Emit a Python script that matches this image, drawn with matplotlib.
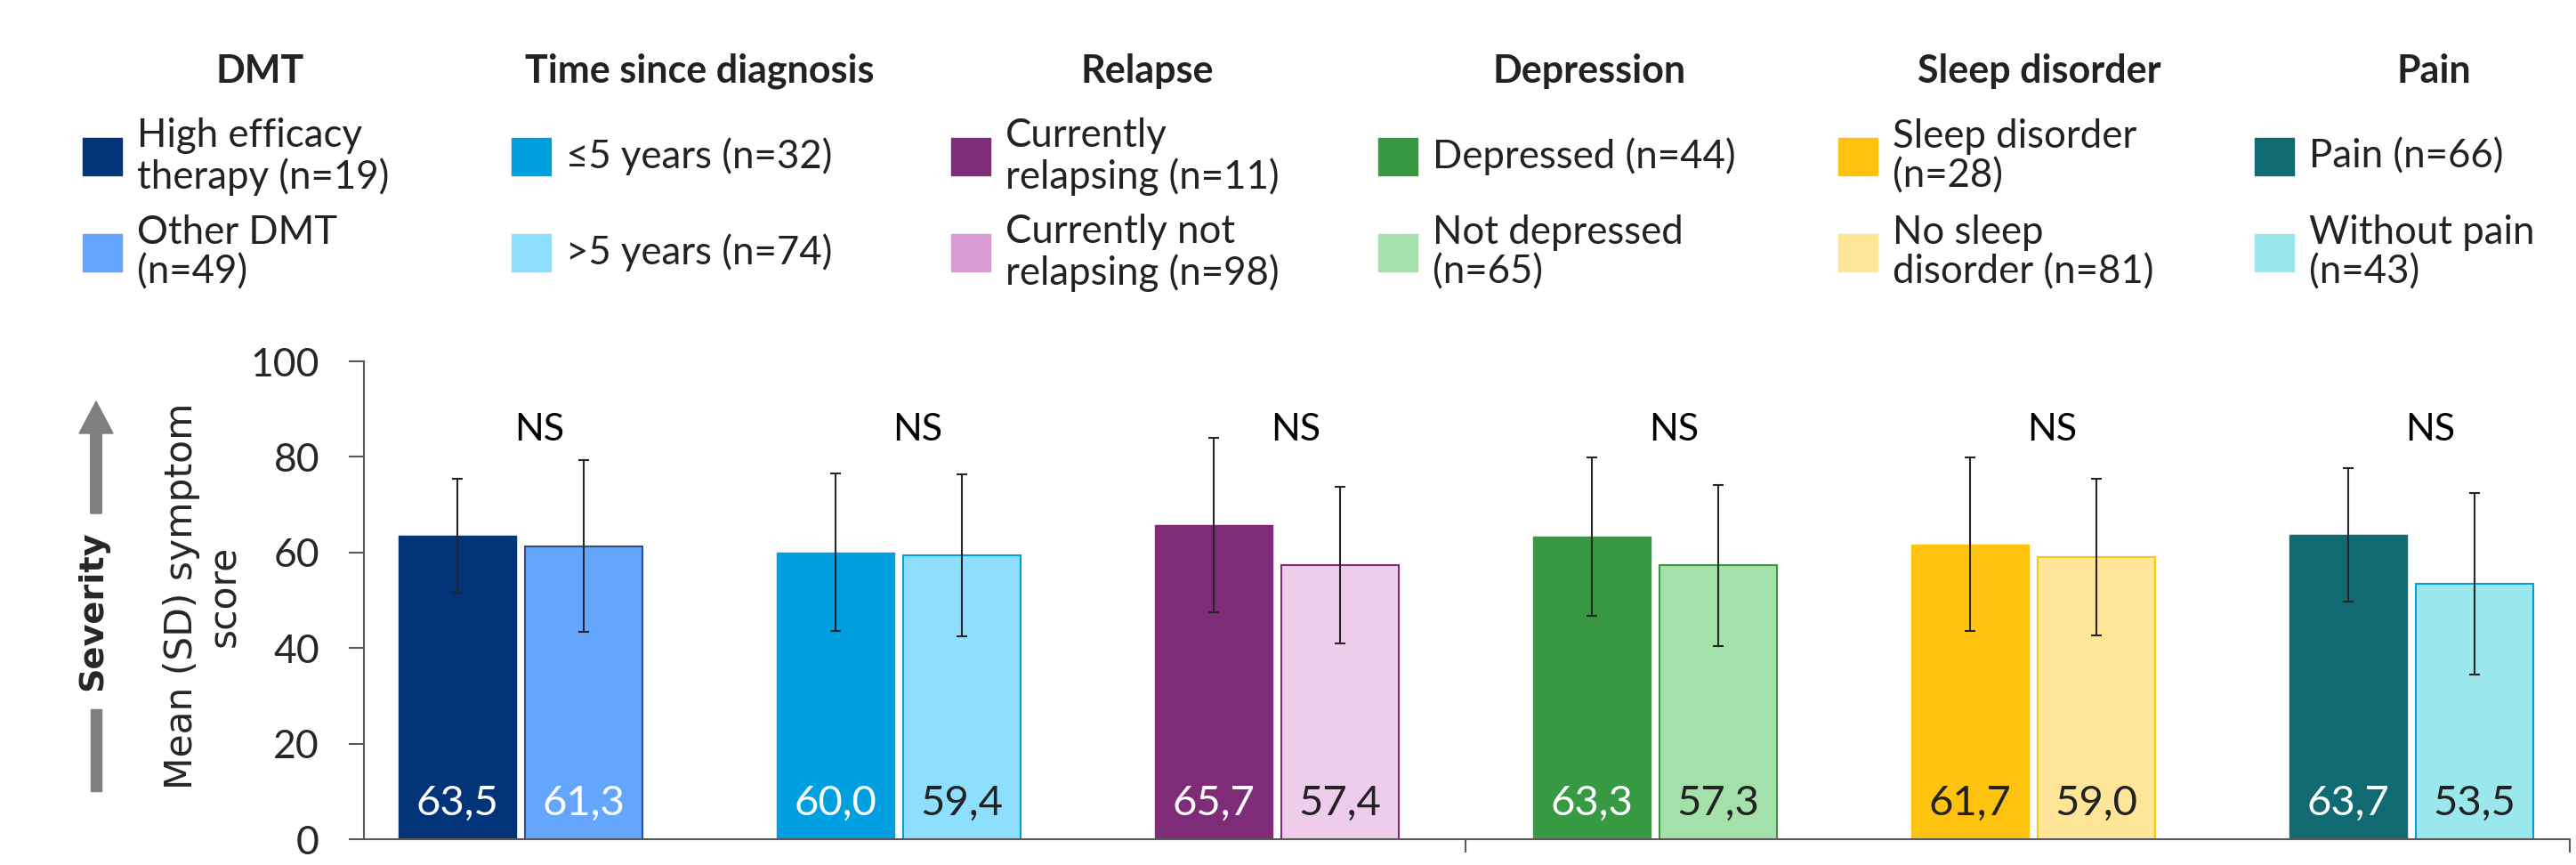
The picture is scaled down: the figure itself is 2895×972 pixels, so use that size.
import matplotlib
matplotlib.use("Agg")
import matplotlib.pyplot as plt
from matplotlib.patches import Rectangle, FancyArrow
import numpy as np

# data
groups = ["DMT", "Time since diagnosis", "Relapse", "Depression", "Sleep disorder", "Pain"]
labels_a = ["High efficacy\ntherapy (n=19)", "≤5 years (n=32)", "Currently\nrelapsing (n=11)",
            "Depressed (n=44)", "Sleep disorder\n(n=28)", "Pain (n=66)"]
labels_b = ["Other DMT\n(n=49)", ">5 years (n=74)", "Currently not\nrelapsing (n=98)",
            "Not depressed\n(n=65)", "No sleep\ndisorder (n=81)", "Without pain\n(n=43)"]
mean_a = [63.5, 60.0, 65.7, 63.3, 61.7, 63.7]
mean_b = [61.3, 59.4, 57.4, 57.3, 59.0, 53.5]
sd_a = [11.9, 16.5, 18.2, 16.5, 18.1, 13.9]
sd_b = [18.0, 16.9, 16.4, 16.8, 16.4, 19.0]
sig = ["NS", "NS", "NS", "NS", "NS", "NS"]
yticks = [0, 20, 40, 60, 80, 100]

# colours
fill_a = ["#02347A", "#00A0E0", "#7F2C78", "#379A42", "#FDC30E", "#116972"]
fill_b = ["#64A5FE", "#8EDFFF", "#EDCDEB", "#A4E0AA", "#FFE598", "#9AE8EE"]
edge_b = ["#2E4E8F", "#00A0E0", "#7F2C78", "#379A42", "#FDC30E", "#00A0E0"]
swatch_b = ["#64A5FE", "#8EDFFF", "#DA9BD4", "#A4E0AA", "#FFE598", "#9AE8EE"]
valcol_a = ["white", "white", "white", "white", "#222222", "white"]
valcol_b = ["white", "#222222", "#222222", "#222222", "#222222", "#222222"]

SANS = ["Lato", "DejaVu Sans"]
W, H = 2895, 972

fig = plt.figure(figsize=(W / 100, H / 100), dpi=100)
ax_l, ax_r, ax_b, ax_t = 409, 2888, 943, 406
ax = fig.add_axes([ax_l / W, 1 - ax_b / H, (ax_r - ax_l) / W, (ax_b - ax_t) / H])

x = np.arange(len(groups))
bw = 0.311
off = 0.1665
ax.bar(x - off, mean_a, bw, color=fill_a, edgecolor=fill_a, linewidth=1.0, zorder=2)
ax.bar(x + off, mean_b, bw, color=fill_b, edgecolor=edge_b, linewidth=1.5, zorder=2)
ax.errorbar(x - off, mean_a, yerr=sd_a, fmt="none", ecolor="#262626",
            elinewidth=1.5, capsize=4.3, capthick=1.5, zorder=3)
ax.errorbar(x + off, mean_b, yerr=sd_b, fmt="none", ecolor="#262626",
            elinewidth=1.5, capsize=4.3, capthick=1.5, zorder=3)

for i in range(len(groups)):
    ax.text(x[i] - off, 5.0, f"{mean_a[i]:.1f}".replace(".", ","), ha="center", va="baseline",
            fontsize=34, color=valcol_a[i], family=SANS, zorder=4)
    ax.text(x[i] + off, 5.0, f"{mean_b[i]:.1f}".replace(".", ","), ha="center", va="baseline",
            fontsize=34, color=valcol_b[i], family=SANS, zorder=4)
    ax.text(x[i] + 0.05, 83.4, sig[i], ha="center", va="baseline", fontsize=31,
            color="black", family=SANS)

xmin, xmax = -0.414, 5.419
ax.set_xlim(xmin, xmax)
ax.set_ylim(0, 100)
ax.set_yticks(yticks)
ax.set_yticklabels([str(t) for t in yticks], family=SANS, fontsize=32, color="#262626")
ax.set_xticks([2.5, xmax])
ax.set_xticklabels([])
for s in ["top", "right"]:
    ax.spines[s].set_visible(False)
for s in ["left", "bottom"]:
    ax.spines[s].set_color("#595959")
    ax.spines[s].set_linewidth(1.5)
ax.tick_params(axis="y", length=12, width=1.5, color="#595959", pad=24)
ax.tick_params(axis="x", length=11, width=1.5, color="#595959")

# y label and severity arrow
fig.text(228 / W, 1 - 670 / H, "Mean (SD) symptom\nscore", rotation=90, ha="center", va="center",
         family="DejaVu Sans", fontsize=30.5, color="#262626", multialignment="center")
fig.text(104 / W, 1 - 686 / H, "Severity", rotation=90, ha="center", va="center",
         family="DejaVu Sans", fontweight="bold", fontsize=27.5, color="#262626")
fig.add_artist(FancyArrow(1.08, (H - 577) / 100, 0, (577 - 451) / 100, width=0.125,
                          head_width=0.38, head_length=0.36, length_includes_head=True,
                          color="#7F7F7F", transform=fig.dpi_scale_trans))
fig.add_artist(Rectangle((1.08 - 0.0625, (H - 889) / 100), 0.125, (889 - 797) / 100,
                         color="#7F7F7F", transform=fig.dpi_scale_trans))

# legend block
head_x = [292, 786, 1289, 1786, 2292, 2735]
sq_x = [93, 575, 1069, 1549, 2066, 2534]
row_y = [176, 284]
sq_w, sq_h = 44, 42
for i, g in enumerate(groups):
    fig.text(head_x[i] / W, 1 - 80 / H, g, ha="center", va="center", fontsize=31,
             fontweight="bold", family=SANS, color="#222222")
    for r, (lab, col) in enumerate([(labels_a[i], fill_a[i]), (labels_b[i], swatch_b[i])]):
        fig.add_artist(Rectangle((sq_x[i] / W, 1 - (row_y[r] + sq_h / 2) / H), sq_w / W, sq_h / H,
                                 color=col, transform=fig.transFigure))
        fig.text((sq_x[i] + 61) / W, 1 - row_y[r] / H, lab, ha="left", va="center",
                 fontsize=31.5, family=SANS, color="#222222", linespacing=1.1)

fig.savefig("out.png", dpi=100)
